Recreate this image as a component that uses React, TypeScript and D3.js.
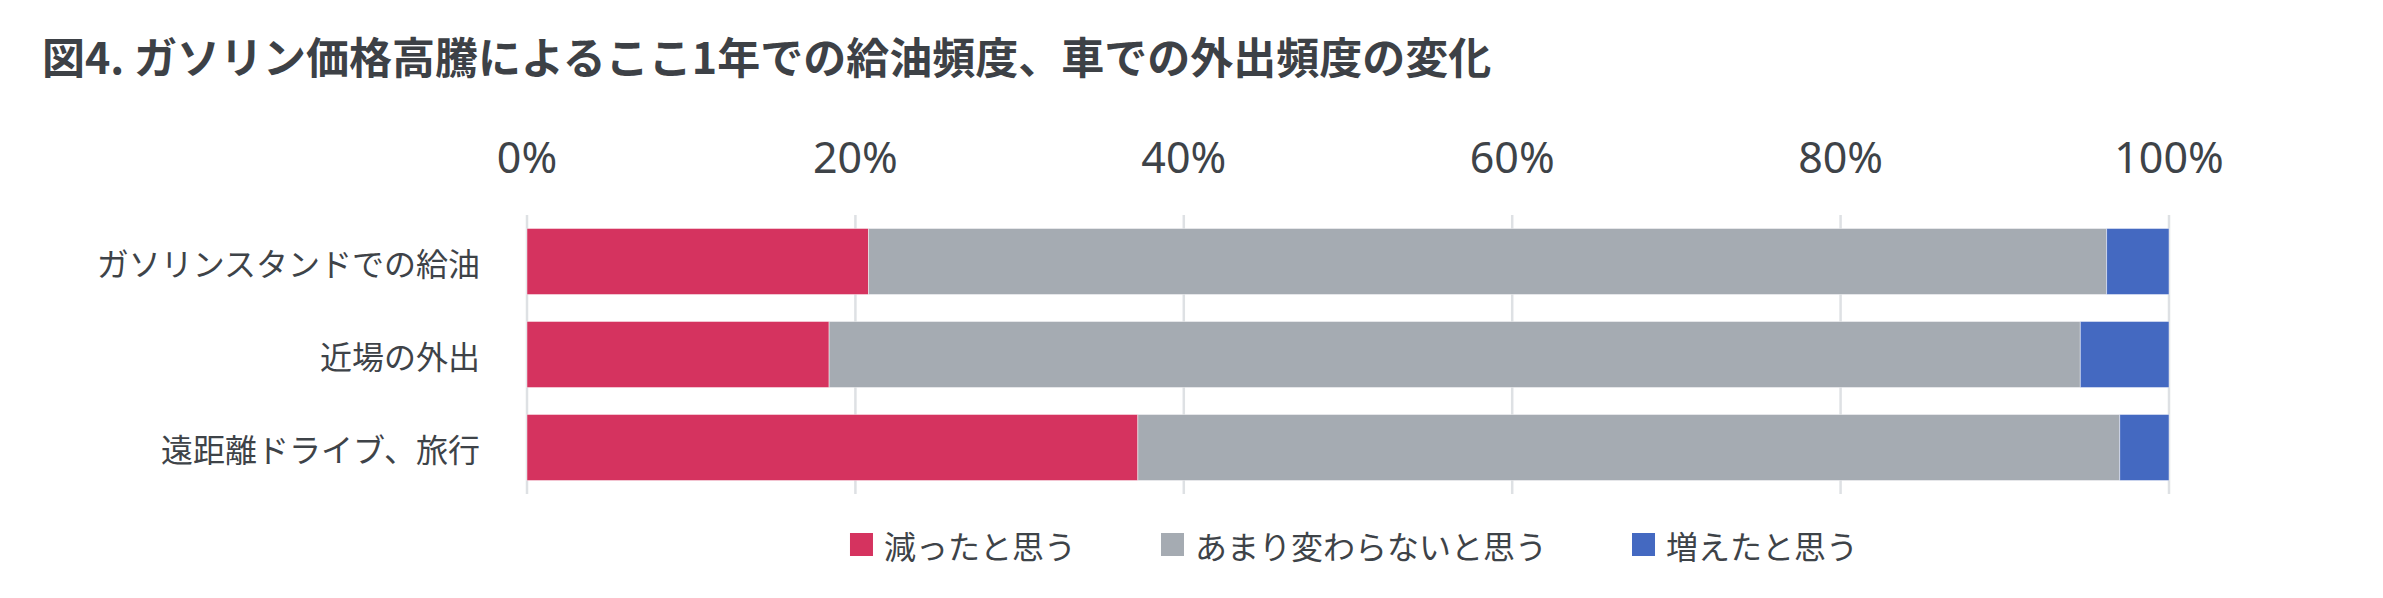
import { useRef, useEffect } from "react";
import * as d3 from "d3";

const title = "図4. ガソリン価格高騰によるここ1年での給油頻度、車での外出頻度の変化";
const categories = ["ガソリンスタンドでの給油", "近場の外出", "遠距離ドライブ、旅行"];
const seriesNames = ["減ったと思う", "あまり変わらないと思う", "増えたと思う"];
const decreased = [20.8, 18.4, 37.2];
const unchanged = [75.4, 76.2, 59.8];
const increased = [3.8, 5.4, 3.0];
const tickValues = [0, 20, 40, 60, 80, 100];
const colors = ["#D5335F", "#A5ABB2", "#4469C1"];

const W = 2383;
const H = 598;
const FONT = "'Noto Sans CJK JP', 'Noto Sans', sans-serif";
const TEXT = "#3E4348";

export default function App() {
  const svgRef = useRef(null);

  useEffect(() => {
    let svg = d3.select(svgRef.current);
    svg.selectAll("*").remove();

    let x = d3.scaleLinear().domain([0, 100]).range([527, 2169]);
    let y = d3
      .scaleBand()
      .domain(categories)
      .range([215, 494])
      .paddingInner(0.29)
      .paddingOuter(0.145);

    // title
    svg
      .append("text")
      .attr("x", 42)
      .attr("y", 74)
      .attr("font-family", FONT)
      .attr("font-size", 43)
      .attr("font-weight", 700)
      .attr("fill", "#3D4146")
      .text(title);

    // gridlines
    svg
      .append("g")
      .selectAll("line")
      .data(tickValues)
      .join("line")
      .attr("x1", (d) => x(d))
      .attr("x2", (d) => x(d))
      .attr("y1", 215)
      .attr("y2", 494)
      .attr("stroke", "#DEE1E4")
      .attr("stroke-width", 2.5);

    // tick labels
    svg
      .append("g")
      .selectAll("text")
      .data(tickValues)
      .join("text")
      .attr("x", (d) => x(d))
      .attr("y", 173)
      .attr("text-anchor", "middle")
      .attr("font-family", "'Noto Sans', sans-serif")
      .attr("font-size", 43)
      .attr("fill", TEXT)
      .text((d) => d + "%");

    // stacked bars
    let rows = categories.map((c, i) => ({
      cat: c,
      v0: decreased[i],
      v1: unchanged[i],
      v2: increased[i],
    }));
    let stack = d3.stack<any>().keys(["v0", "v1", "v2"])(rows);

    svg
      .append("g")
      .selectAll("g")
      .data(stack)
      .join("g")
      .attr("fill", (d, i) => colors[i])
      .selectAll("rect")
      .data((d) => d)
      .join("rect")
      .attr("x", (d) => x(d[0]))
      .attr("y", (d: any) => y(d.data.cat)!)
      .attr("width", (d) => x(d[1]) - x(d[0]))
      .attr("height", y.bandwidth())
      .attr("stroke", "#ffffff")
      .attr("stroke-opacity", 0.45)
      .attr("stroke-width", 1);

    // category labels
    svg
      .append("g")
      .selectAll("text")
      .data(categories)
      .join("text")
      .attr("x", 480)
      .attr("y", (d) => y(d)! + y.bandwidth() / 2)
      .attr("text-anchor", "end")
      .attr("dominant-baseline", "central")
      .attr("font-family", FONT)
      .attr("font-size", 32)
      .attr("fill", TEXT)
      .text((d) => d);

    // legend
    let legend = svg.append("g");
    let sw = 23;
    let gap = 11;
    let itemGap = 85;
    let items = legend
      .selectAll("g")
      .data(seriesNames)
      .join("g");
    items
      .append("rect")
      .attr("y", 533)
      .attr("width", sw)
      .attr("height", sw)
      .attr("fill", (d, i) => colors[i]);
    items
      .append("text")
      .attr("x", sw + gap)
      .attr("y", 545)
      .attr("dominant-baseline", "central")
      .attr("font-family", FONT)
      .attr("font-size", 32)
      .attr("fill", TEXT)
      .text((d) => d);

    let widths: number[] = [];
    items.selectAll("text").each(function () {
      widths.push(sw + gap + (this as SVGTextElement).getComputedTextLength());
    });
    let total = d3.sum(widths) + itemGap * (widths.length - 1);
    let start = (x(0) + x(100)) / 2 - total / 2 + 6;
    let offsets: number[] = [];
    widths.reduce((acc, w) => {
      offsets.push(acc);
      return acc + w + itemGap;
    }, start);
    items.attr("transform", (d, i) => `translate(${offsets[i]},0)`);
  }, []);

  return (
    <svg
      ref={svgRef}
      width={W}
      height={H}
      style={{ position: "absolute", left: 0, top: 0, background: "#fff" }}
    ></svg>
  );
}
